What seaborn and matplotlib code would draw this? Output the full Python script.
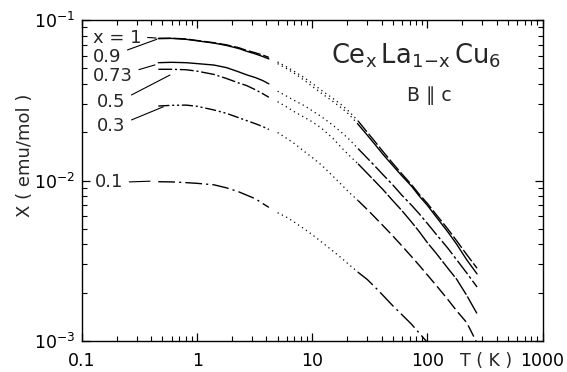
import numpy as np
import pandas as pd
import matplotlib
matplotlib.use("Agg")
import matplotlib.pyplot as plt
import seaborn as sns
from matplotlib.ticker import LogLocator, NullFormatter, FixedLocator, FixedFormatter

# ---------------- data ----------------
T = [0.46, 0.6, 0.8, 1.0, 1.4, 1.8, 2.3, 2.7, 3.2, 3.7, 4.2,
     5, 6, 7, 8.5, 10, 12, 15, 18, 21, 25,
     30, 35, 41, 50, 60, 73, 85, 100, 120, 150, 180, 220, 270]

chi_x100 = [0.0769, 0.0770, 0.0762, 0.0745, 0.0722, 0.0700, 0.0672, 0.0646, 0.0625, 0.0605, 0.0585,
            0.0548, 0.0510, 0.0478, 0.0438, 0.0403, 0.0365, 0.0326, 0.0296, 0.0268, 0.0235,
            0.0200, 0.0175, 0.0152, 0.0128, 0.0110, 0.0094, 0.0082, 0.0072, 0.0061, 0.0050,
            0.0042, 0.00345, 0.00284]
chi_x090 = [0.0765, 0.0768, 0.0758, 0.0742, 0.0718, 0.0694, 0.0664, 0.0638, 0.0615, 0.0593, 0.0572,
            0.0535, 0.0497, 0.0465, 0.0422, 0.0386, 0.0350, 0.0312, 0.0283, 0.0257, 0.0224,
            0.0192, 0.0168, 0.0146, 0.0124, 0.0107, 0.0092, 0.0080, 0.0070, 0.0059, 0.0048,
            0.0040, 0.0032, 0.00262]
chi_x073 = [0.0542, 0.0545, 0.0542, 0.0535, 0.0524, 0.0505, 0.0475, 0.0455, 0.0438, 0.0420, 0.0400,
            0.0360, 0.0335, 0.0315, 0.0293, 0.0272, 0.0250, 0.0222, 0.0199, 0.0180, 0.0158,
            0.0138, 0.0123, 0.0109, 0.0094, 0.0081, 0.0070, 0.0062, 0.0054, 0.0046, 0.0038,
            0.0032, 0.00265, 0.00217]
chi_x050 = [0.0493, 0.0493, 0.0490, 0.0480, 0.0458, 0.0432, 0.0405, 0.0390, 0.0368, 0.0348, 0.0330,
            0.0310, 0.0287, 0.0268, 0.0248, 0.0232, 0.0212, 0.0184, 0.0160, 0.0143, 0.0127,
            0.0111, 0.0099, 0.0088, 0.0075, 0.0065, 0.0055, 0.0048, 0.0041, 0.0035, 0.00285,
            0.00242, 0.00192, 0.00148]
chi_x030 = [0.0291, 0.0294, 0.0295, 0.0290, 0.0275, 0.0262, 0.0246, 0.0236, 0.0226, 0.0217, 0.0208,
            0.0199, 0.0183, 0.0170, 0.0152, 0.0139, 0.0125, 0.0107, 0.0094, 0.0084, 0.0075,
            0.0066, 0.0059, 0.00525, 0.00452, 0.00392, 0.00335, 0.00296, 0.00258, 0.00221, 0.00182,
            0.00154, 0.00130, 0.00097]
chi_x010 = [0.00983, 0.0098, 0.0097, 0.0096, 0.0094, 0.0090, 0.0085, 0.0081, 0.0077, 0.0072, 0.0068,
            0.0063, 0.0059, 0.0055, 0.0050, 0.0046, 0.00415, 0.00365, 0.00328, 0.00298, 0.00268,
            0.00242, 0.00217, 0.00193, 0.00166, 0.00146, 0.00127, 0.00112, 0.00098, 0.00084, 0.00068,
            0.00057, 0.00047, 0.00038]

compositions = ["1", "0.9", "0.73", "0.5", "0.3", "0.1"]
curve_labels = ["x = 1", "0.9", "0.73", "0.5", "0.3", "0.1"]
T_low_end = 4.2     # end of low-temperature measurement
T_mid_end = 25      # end of intermediate (dotted) range

x_tick_values = [0.1, 1, 10, 100, 1000]
x_tick_labels = ["0.1", "1", "10", "100", "1000"]
y_tick_values = [1e-3, 1e-2, 1e-1]
y_tick_labels = [r"$10^{-3}$", r"$10^{-2}$", r"$10^{-1}$"]

# ---------------- build table ----------------
series = [chi_x100, chi_x090, chi_x073, chi_x050, chi_x030, chi_x010]
rows = []
for comp, chi in zip(compositions, series):
    for t, c in zip(T, chi):
        rows.append({"x": comp, "T": t, "chi": c})
df = pd.DataFrame(rows)

# ---------------- styles ----------------
low_styles = {"1": (0, (9, 2)), "0.9": "-", "0.73": "-",
              "0.5": (0, (10, 2, 1.5, 2)), "0.3": (0, (8, 2, 1.5, 2, 1.5, 2)),
              "0.1": (0, (12, 3, 1.5, 3))}
high_styles = {"1": (0, (10, 2)), "0.9": "-", "0.73": (0, (12, 2, 2, 2)),
               "0.5": (0, (14, 1.5)), "0.3": (0, (9, 3)), "0.1": (0, (14, 3, 1.5, 3))}
dot_style = (0, (1, 2.8))

sns.set_style("ticks")
plt.rcParams["font.family"] = ["DejaVu Sans"]
plt.rcParams["mathtext.fontset"] = "dejavusans"

fig = plt.figure(figsize=(5.67, 3.72), dpi=100)
ax = fig.add_axes([82 / 567, 31 / 372, 460.5 / 567, 321 / 372])
ax.set_xscale("log")
ax.set_yscale("log")

for comp in compositions:
    sub = df[df["x"] == comp]
    low = sub[sub["T"] <= T_low_end]
    mid = sub[(sub["T"] > T_low_end) & (sub["T"] <= T_mid_end)]
    high = sub[sub["T"] >= T_mid_end]
    sns.lineplot(data=low, x="T", y="chi", ax=ax, color="black", lw=1.0,
                 linestyle=low_styles[comp], estimator=None, sort=False, legend=False)
    sns.lineplot(data=mid, x="T", y="chi", ax=ax, color="black", lw=0.9,
                 linestyle=dot_style, estimator=None, sort=False, legend=False)
    sns.lineplot(data=high, x="T", y="chi", ax=ax, color="black", lw=1.0,
                 linestyle=high_styles[comp], estimator=None, sort=False, legend=False)

ax.set_xlim(0.1, 1000)
ax.set_ylim(1e-3, 1e-1)

ax.xaxis.set_major_locator(FixedLocator(x_tick_values))
ax.xaxis.set_major_formatter(FixedFormatter(x_tick_labels))
ax.yaxis.set_major_locator(FixedLocator(y_tick_values))
ax.yaxis.set_major_formatter(FixedFormatter(y_tick_labels))
ax.xaxis.set_minor_locator(LogLocator(base=10, subs=np.arange(2, 10), numticks=20))
ax.yaxis.set_minor_locator(LogLocator(base=10, subs=np.arange(2, 10), numticks=20))
ax.xaxis.set_minor_formatter(NullFormatter())
ax.yaxis.set_minor_formatter(NullFormatter())

ax.tick_params(which="both", direction="in", top=True, right=True, colors="black")
ax.tick_params(which="major", length=6, width=0.9)
ax.tick_params(which="minor", length=3.5, width=0.8)
ax.tick_params(axis="x", which="major", pad=8, labelsize=12.5)
ax.tick_params(axis="y", which="major", pad=5, labelsize=12.5)
for s in ax.spines.values():
    s.set_visible(True)
    s.set_linewidth(1.0)
    s.set_color("black")

ax.set_xlabel("")
ax.set_ylabel("X ( emu/mol )", fontsize=13)
ax.yaxis.set_label_coords(-0.105, 0.58)

ax.text(0.877, -0.035, "T ( K )", transform=ax.transAxes, ha="center", va="top", fontsize=12.5)

ax.text(0.540, 0.865, r"$\mathrm{Ce_{x}\,La_{1\!-\!x}\,Cu_{6}}$", transform=ax.transAxes,
        ha="left", va="baseline", fontsize=18.5)
ax.text(0.705, 0.748, "B \u2225 c", transform=ax.transAxes, ha="left", va="baseline",
        fontsize=13.5)

# curve labels with leader lines
label_text_pos = [(0.024, 0.944), (0.024, 0.886), (0.024, 0.826),
                  (0.033, 0.746), (0.033, 0.670), (0.028, 0.495)]
label_anchor = [(0.44, 0.0772), (0.446, 0.0758), (0.43, 0.0525),
                (0.581, 0.0454), (0.509, 0.0288), (0.39, 0.0099)]
label_relpos = [(1, 0.55), (1, 0.75), (1, 0.75), (1, 0.7), (1, 0.7), (1, 0.5)]
for lab, tp, an, rp in zip(curve_labels, label_text_pos, label_anchor, label_relpos):
    ax.annotate(lab, xy=an, xycoords="data", xytext=tp, textcoords="axes fraction",
                ha="left", va="center", fontsize=13,
                arrowprops=dict(arrowstyle="-", lw=0.8, color="black",
                                shrinkA=2, shrinkB=0, relpos=rp))

fig.savefig("out.png", dpi=100)
